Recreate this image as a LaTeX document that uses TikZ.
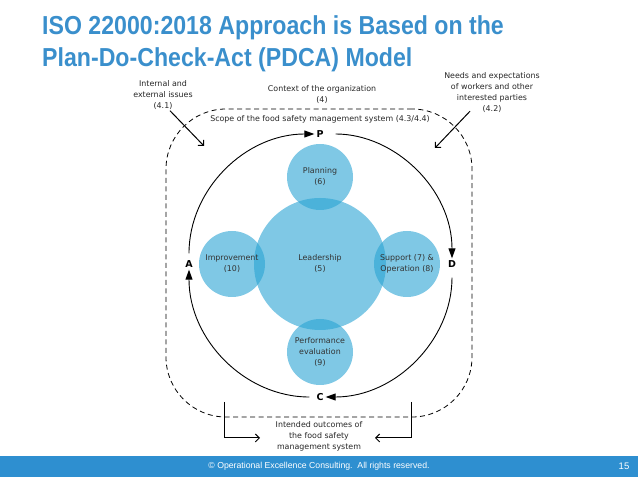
\documentclass[tikz,border=0pt]{standalone}
\usepackage{fontspec}
\setmainfont{DejaVu Sans}
\newfontfamily\titlefont[FakeStretch=0.89]{Liberation Sans}
\newfontfamily\footfont{Liberation Sans}
\usepackage{tikz}
\usetikzlibrary{arrows.meta, positioning}
\definecolor{ttl}{HTML}{3A8FCC}
\definecolor{bar}{HTML}{2E8FD0}
\definecolor{bub}{HTML}{29A3D3}

\begin{document}
\begin{tikzpicture}[x=1pt, y=1pt,
        lbl/.style={font=\fontsize{7.9}{11}\selectfont, align=center,
                    inner sep=0pt, text=black!85},
        bubble/.style={circle, fill=bub, fill opacity=0.6, text opacity=1,
                       minimum size=66pt, inner sep=0pt, align=center,
                       font=\fontsize{7.9}{11}\selectfont, text=black!80},
        pdca/.style={font=\bfseries\fontsize{9.5}{9.5}\selectfont, inner sep=2pt},
        cyc/.style={-{Triangle[length=10pt,width=7pt]}, line width=0.9pt,
                    shorten <=5pt},
        feed/.style={-{Straight Barb[length=4pt,width=8pt]}, line width=1pt},
        title/.style={font=\titlefont\bfseries\fontsize{26}{30}\selectfont,
                      text=ttl, anchor=base west, inner sep=0pt},
      ]
      \useasboundingbox (0,0) rectangle (638,479);

      % Title
      \node[title] (title1) at (42,444) {ISO 22000:2018 Approach is Based on the};
      \node[title] (title2) at (42,412) {Plan-Do-Check-Act (PDCA) Model};

      % Scope of the system
      \node[draw, dashed, dash pattern=on 5pt off 3.5pt, line width=0.8pt,
            rounded corners=60pt, minimum width=306pt, minimum height=308pt,
            inner sep=0pt] (scopebox) at (319,216) {};
      \node[lbl] (scope) at (320,360) {Scope of the food safety management system (4.3/4.4)};

      % Clauses as bubbles
      \node[bubble, minimum size=132pt] (lead) at (320,215) {Leadership\\(5)};
      \node[bubble] (plan) at (320,302) {Planning\\(6)};
      \node[bubble] (supp) at (407,215) {Support (7) \&\\Operation (8)};
      \node[bubble] (perf) at (320,127) {Performance\\evaluation\\(9)};
      \node[bubble] (impr) at (232,215) {Improvement\\(10)};

      % PDCA cycle
      \node[pdca] (P) at (320,345) {P};
      \node[pdca] (D) at (452,215) {D};
      \node[pdca] (C) at (320,82) {C};
      \node[pdca] (A) at (189,215) {A};
      \draw[cyc] (A.north) to[out=90, in=180] (P.west);
      \draw[cyc, shorten <=10pt] (P.east) to[out=0, in=90] (D.north);
      \draw[cyc, shorten <=8pt] (D.south) to[out=-90, in=0] (C.east);
      \draw[cyc] (C.west) to[out=180, in=-90] (A.south);

      % Inputs
      \node[lbl] (issues) at (163,384) {Internal and\\external issues\\(4.1)};
      \node[lbl] (context) at (322,384.5) {Context of the organization\\(4)};
      \node[lbl] (needs) at (492,386) {Needs and expectations\\of workers and other\\interested parties\\(4.2)};
      \coordinate (issuesin) at (204,333);
      \coordinate (needsin) at (435,331);
      \draw[feed] ([xshift=7pt,yshift=-1pt]issues.south) -- (issuesin);
      \draw[feed] ([xshift=-22pt,yshift=2pt]needs.south) -- (needsin);

      % Outputs
      \node[lbl] (outcome) at (319,43) {Intended outcomes of\\the food safety\\management system};
      \coordinate (outL) at (224,77);
      \coordinate (outR) at (411,77);
      \coordinate (outLe) at (260,41);
      \coordinate (outRe) at (375,41);
      \draw[feed] (outL) |- (outLe);
      \draw[feed] (outR) |- (outRe);

      % Footer
      \node[fill=bar, minimum width=638pt, minimum height=21pt, inner sep=0pt,
            anchor=south west] (footer) at (0,2) {};
      \node[font=\footfont\fontsize{8.7}{9}\selectfont, text=white] (copy)
            at (319,12.5) {© Operational Excellence Consulting.\ \ All rights reserved.};
      \node[font=\footfont\fontsize{9.5}{10}\selectfont, text=white] (pageno)
            at (624,12.5) {15};
      \end{tikzpicture}
\end{document}
